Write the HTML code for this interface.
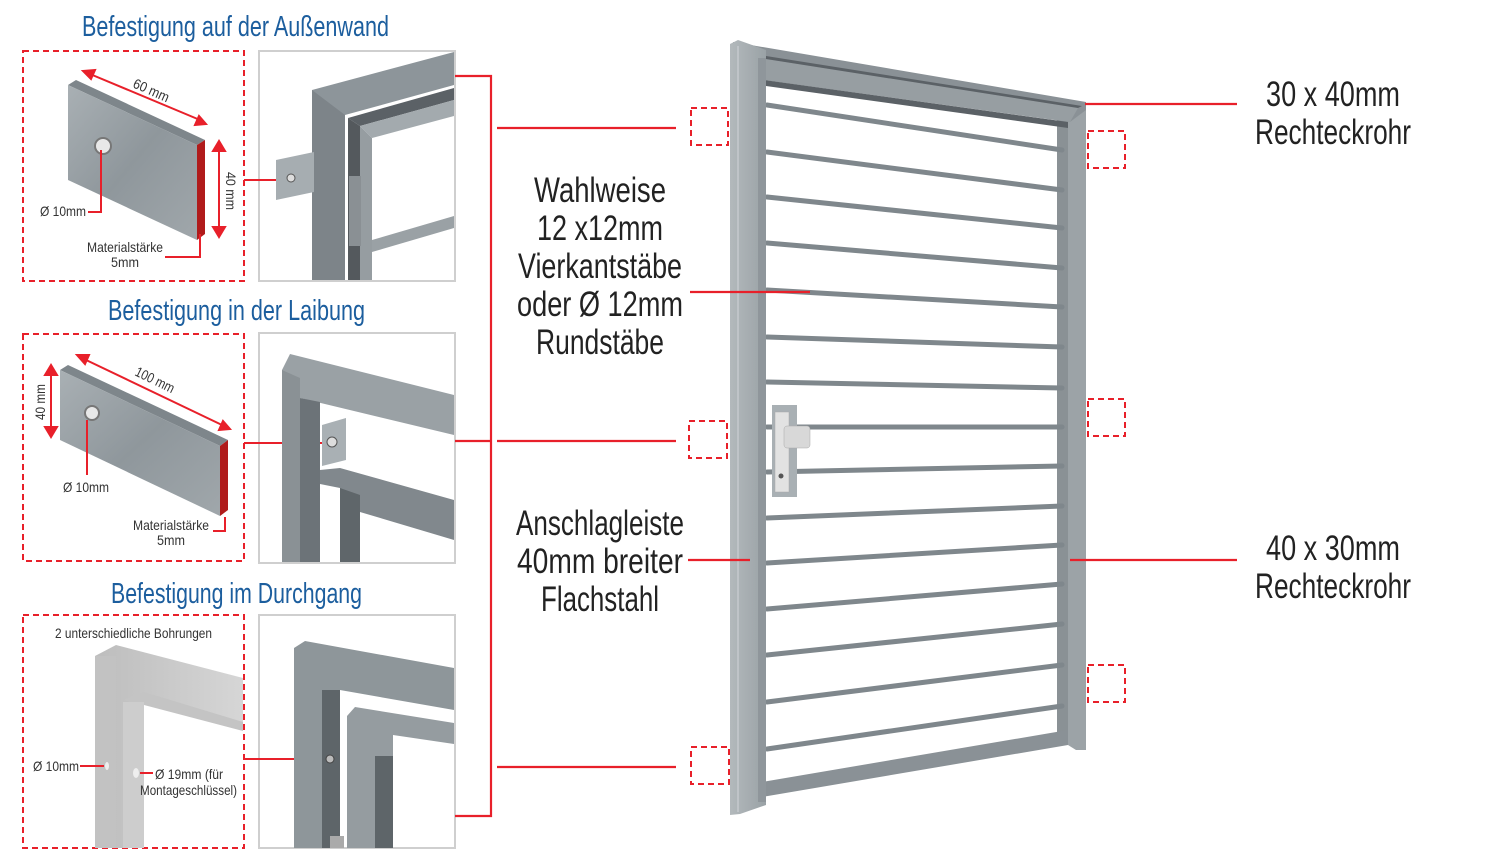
<!DOCTYPE html>
<html><head><meta charset="utf-8"><style>
html,body{margin:0;padding:0;background:#fff;}
svg{display:block;}
text{font-family:"Liberation Sans Narrow","Liberation Sans",sans-serif;}
</style></head><body>
<svg width="1500" height="855" viewBox="0 0 1500 855" xmlns="http://www.w3.org/2000/svg">
<defs>
<linearGradient id="gv" x1="0" y1="0" x2="1" y2="1">
<stop offset="0" stop-color="#a9b0b4"/><stop offset="0.5" stop-color="#8f979c"/><stop offset="1" stop-color="#a0a7ab"/>
</linearGradient>
<linearGradient id="gp" x1="0" y1="0" x2="1" y2="0">
<stop offset="0" stop-color="#b3b9bc"/><stop offset="1" stop-color="#9aa2a6"/>
</linearGradient>
<linearGradient id="lt" x1="0" y1="0" x2="1" y2="0">
<stop offset="0" stop-color="#bdbdbd"/><stop offset="1" stop-color="#d6d6d6"/>
</linearGradient>
</defs>

<g fill="#1c5e9e" font-size="29">
<text x="82" y="36" textLength="307" lengthAdjust="spacingAndGlyphs">Befestigung auf der Außenwand</text>
<text x="108" y="320" textLength="257" lengthAdjust="spacingAndGlyphs">Befestigung in der Laibung</text>
<text x="111" y="603" textLength="251" lengthAdjust="spacingAndGlyphs">Befestigung im Durchgang</text>
</g>

<g fill="none" stroke="#e8202a" stroke-width="2" stroke-dasharray="6,4">
<rect x="23" y="51" width="221" height="230"/>
<rect x="23" y="334" width="221" height="227"/>
<rect x="23" y="615" width="221" height="233"/>
</g>
<g fill="#fff" stroke="#cfcfcf" stroke-width="2">
<rect x="259" y="51" width="196" height="230"/>
<rect x="259" y="333" width="196" height="230"/>
<rect x="259" y="615" width="196" height="233"/>
</g>

<polygon points="68,85 76,80 205,140 197,145" fill="#7e868b"/>
<polygon points="68,85 197,145 197,240 68,180" fill="url(#gv)"/>
<polygon points="197,145 205,140 205,234 197,240" fill="#b01b1b"/>
<circle cx="103" cy="146" r="8" fill="#e8e8e8" stroke="#777" stroke-width="2"/>
<g stroke="#e8202a" stroke-width="2" fill="#e8202a">
<line x1="90" y1="74" x2="200" y2="120"/>
<polygon points="83,71 95,70 91,79"/><polygon points="206,124 195,125 199,116"/>
<line x1="219" y1="148" x2="219" y2="230"/>
<polygon points="219,141 213,151 225,151"/><polygon points="219,237 213,227 225,227"/>
<polyline points="101,150 101,212 88,212" fill="none"/>
<polyline points="200,234 200,257 165,257" fill="none"/>
<line x1="244" y1="180" x2="287" y2="180"/>
</g>
<g fill="#333" font-size="14">
<text x="132" y="87" transform="rotate(24 132 87)" textLength="38" lengthAdjust="spacingAndGlyphs">60 mm</text>
<text x="226" y="172" transform="rotate(90 226 172)" textLength="38" lengthAdjust="spacingAndGlyphs">40 mm</text>
<text x="40" y="216" textLength="46" lengthAdjust="spacingAndGlyphs">Ø 10mm</text>
<text x="87" y="252" textLength="76" lengthAdjust="spacingAndGlyphs">Materialstärke</text>
<text x="111" y="267" textLength="28" lengthAdjust="spacingAndGlyphs">5mm</text>
</g>
<g>
<polygon points="312,90 454,52 454,85 345,115 345,280 312,280" fill="#8d959a"/>
<polygon points="312,90 345,115 345,280 312,280" fill="#7d8489"/>
<polygon points="348,118 454,88 454,100 360,126" fill="#5b6166"/>
<polygon points="348,118 360,126 360,280 348,280" fill="#54595d"/>
<polygon points="360,126 454,100 454,116 372,138" fill="#a3aaae"/>
<polygon points="360,126 372,138 372,280 360,280" fill="#969da1"/>
<polygon points="372,240 454,216 454,228 372,252" fill="#9aa1a5"/>
<rect x="349" y="176" width="12" height="70" fill="#8a9094"/>
<polygon points="276,160 314,152 314,192 276,200" fill="#a6adb1"/>
<circle cx="291" cy="178" r="4" fill="#ddd" stroke="#555"/>
</g>

<polygon points="60,370 68,365 228,440 220,446" fill="#7e868b"/>
<polygon points="60,370 220,446 220,516 60,440" fill="url(#gv)"/>
<polygon points="220,446 228,440 228,510 220,516" fill="#b01b1b"/>
<circle cx="92" cy="413" r="7" fill="#e8e8e8" stroke="#777" stroke-width="2"/>
<g stroke="#e8202a" stroke-width="2" fill="#e8202a">
<line x1="84" y1="359" x2="222" y2="425"/>
<polygon points="77,355 89,355 85,364"/><polygon points="230,429 219,430 223,421"/>
<line x1="51" y1="372" x2="51" y2="430"/>
<polygon points="51,365 45,375 57,375"/><polygon points="51,437 45,427 57,427"/>
<line x1="87" y1="420" x2="87" y2="475"/>
<polyline points="225,517 225,531 213,531" fill="none"/>
<line x1="244" y1="443" x2="322" y2="443"/>
</g>
<g fill="#333" font-size="14">
<text x="134" y="375" transform="rotate(26 134 375)" textLength="42" lengthAdjust="spacingAndGlyphs">100 mm</text>
<text x="45" y="420" transform="rotate(-90 45 420)" textLength="36" lengthAdjust="spacingAndGlyphs">40 mm</text>
<text x="63" y="492" textLength="46" lengthAdjust="spacingAndGlyphs">Ø 10mm</text>
<text x="133" y="530" textLength="76" lengthAdjust="spacingAndGlyphs">Materialstärke</text>
<text x="157" y="545" textLength="28" lengthAdjust="spacingAndGlyphs">5mm</text>
</g>
<g>
<polygon points="282,370 290,354 454,395 454,435 300,398 300,562 282,562" fill="#9aa1a5"/>
<polygon points="282,370 300,378 300,562 282,562" fill="#8a9195"/>
<polygon points="300,398 320,402 320,562 300,562" fill="#6c7378"/>
<polygon points="322,425 346,418 346,460 322,466" fill="#a9b0b4"/>
<circle cx="332" cy="442" r="5" fill="#ddd" stroke="#555"/>
<polygon points="320,470 340,468 454,500 454,540 360,512 360,562 340,562 340,488 320,484" fill="#81888d"/>
<polygon points="340,488 360,495 360,562 340,562" fill="#5f666a"/>
</g>

<text x="55" y="638" font-size="14" fill="#333" textLength="157" lengthAdjust="spacingAndGlyphs">2 unterschiedliche Bohrungen</text>
<polygon points="95,656 116,645 243,678 243,730 144,697 144,848 95,848" fill="url(#lt)"/>
<polygon points="123,700 144,692 243,722 243,731 144,705" fill="#c4c4c4"/>
<rect x="123" y="702" width="21" height="146" fill="#cdcdcd"/>
<rect x="95" y="656" width="21" height="192" fill="#c2c2c2"/>
<ellipse cx="107" cy="766" rx="2" ry="4" fill="#eee"/>
<ellipse cx="136" cy="773" rx="3" ry="5" fill="#eee"/>
<g stroke="#e8202a" stroke-width="2">
<line x1="80" y1="766" x2="104" y2="766"/>
<line x1="140" y1="773" x2="153" y2="773"/>
<line x1="244" y1="759" x2="322" y2="759"/>
</g>
<g fill="#333" font-size="14">
<text x="33" y="771" textLength="46" lengthAdjust="spacingAndGlyphs">Ø 10mm</text>
<text x="155" y="779" textLength="68" lengthAdjust="spacingAndGlyphs">Ø 19mm (für</text>
<text x="140" y="795" textLength="97" lengthAdjust="spacingAndGlyphs">Montageschlüssel)</text>
</g>
<g>
<polygon points="294,648 305,641 454,668 454,710 340,690 340,848 294,848" fill="#8e969a"/>
<rect x="322" y="690" width="18" height="158" fill="#5e6569"/>
<circle cx="330" cy="759" r="4" fill="#bbb" stroke="#444"/>
<polygon points="347,716 355,707 454,723 454,744 393,735 393,848 347,848" fill="#959ca0"/>
<rect x="375" y="756" width="18" height="92" fill="#5e6569"/>
<rect x="330" y="836" width="14" height="12" fill="#aaa"/>
</g>

<!-- Gate -->
<g>
<polygon points="1057,112 1086,104 1086,750 1076,750 1068,745 1057,745" fill="#9ca3a7"/>
<rect x="1057" y="115" width="11" height="630" fill="#8a9195"/>
<g stroke="#7f878c" stroke-width="5" stroke-linecap="round">
<line x1="767" y1="105" x2="1062" y2="150"/>
<line x1="767" y1="152" x2="1062" y2="190"/>
<line x1="767" y1="197" x2="1062" y2="228"/>
<line x1="767" y1="243" x2="1062" y2="268"/>
<line x1="767" y1="290" x2="1062" y2="307"/>
<line x1="767" y1="337" x2="1062" y2="347"/>
<line x1="767" y1="382" x2="1062" y2="388"/>
<line x1="767" y1="427" x2="1062" y2="427"/>
<line x1="767" y1="472" x2="1062" y2="466"/>
<line x1="767" y1="518" x2="1062" y2="506"/>
<line x1="767" y1="563" x2="1062" y2="545"/>
<line x1="767" y1="609" x2="1062" y2="584"/>
<line x1="767" y1="655" x2="1062" y2="624"/>
<line x1="767" y1="702" x2="1062" y2="665"/>
<line x1="767" y1="749" x2="1062" y2="706"/>
</g>
<polygon points="733,42 1086,102 1086,110 1070,122 764,80 740,76" fill="#8a9196"/>
<polygon points="760,58 1078,108 1070,122 764,80" fill="#979ea2"/>
<polygon points="760,58 766,56 1082,106 1078,108" fill="#5b6166"/>
<polygon points="764,80 1068,122 1068,128 766,86" fill="#5b6166"/>
<polygon points="762,782 1068,730 1068,745 762,797" fill="#8a9196"/>
<polygon points="730,44 738,40 766,50 766,805 740,814 730,815" fill="url(#gp)"/>
<rect x="758" y="58" width="8" height="744" fill="#8f969b"/>
<line x1="738" y1="46" x2="738" y2="812" stroke="#c5cacd" stroke-width="1.5"/>
<rect x="772" y="405" width="25" height="92" fill="#a9b0b4"/>
<rect x="775" y="412" width="14" height="80" fill="#e2e2e2" stroke="#aaa" stroke-width="0.5"/>
<rect x="784" y="426" width="26" height="22" rx="3" fill="#d8d8d8" stroke="#aaa" stroke-width="0.5"/>
<circle cx="781" cy="476" r="2.5" fill="#555"/>
</g>

<g stroke="#e8202a" stroke-width="2.2" fill="none">
<polyline points="455,76 491,76 491,816 455,816"/>
<line x1="455" y1="441" x2="491" y2="441"/>
<line x1="497" y1="128" x2="676" y2="128"/>
<line x1="497" y1="441" x2="676" y2="441"/>
<line x1="497" y1="767" x2="676" y2="767"/>
<line x1="690" y1="292" x2="810" y2="292"/>
<line x1="688" y1="560" x2="750" y2="560"/>
<line x1="1085" y1="104" x2="1237" y2="104"/>
<line x1="1070" y1="560" x2="1237" y2="560"/>
</g>
<g fill="none" stroke="#e8202a" stroke-width="2" stroke-dasharray="6,4">
<rect x="691" y="108" width="37" height="37"/>
<rect x="689" y="421" width="38" height="37"/>
<rect x="691" y="747" width="38" height="37"/>
<rect x="1088" y="131" width="37" height="37"/>
<rect x="1088" y="399" width="37" height="37"/>
<rect x="1088" y="665" width="37" height="37"/>
</g>

<g fill="#222" font-size="35" text-anchor="middle">
<text x="600" y="202" textLength="132" lengthAdjust="spacingAndGlyphs">Wahlweise</text>
<text x="600" y="240" textLength="126" lengthAdjust="spacingAndGlyphs">12 x12mm</text>
<text x="600" y="278" textLength="164" lengthAdjust="spacingAndGlyphs">Vierkantstäbe</text>
<text x="600" y="316" textLength="166" lengthAdjust="spacingAndGlyphs">oder Ø 12mm</text>
<text x="600" y="354" textLength="128" lengthAdjust="spacingAndGlyphs">Rundstäbe</text>
<text x="600" y="535" textLength="168" lengthAdjust="spacingAndGlyphs">Anschlagleiste</text>
<text x="600" y="573" textLength="166" lengthAdjust="spacingAndGlyphs">40mm breiter</text>
<text x="600" y="611" textLength="118" lengthAdjust="spacingAndGlyphs">Flachstahl</text>
<text x="1333" y="106" textLength="134" lengthAdjust="spacingAndGlyphs">30 x 40mm</text>
<text x="1333" y="144" textLength="156" lengthAdjust="spacingAndGlyphs">Rechteckrohr</text>
<text x="1333" y="560" textLength="134" lengthAdjust="spacingAndGlyphs">40 x 30mm</text>
<text x="1333" y="598" textLength="156" lengthAdjust="spacingAndGlyphs">Rechteckrohr</text>
</g>
</svg>
</body></html>
